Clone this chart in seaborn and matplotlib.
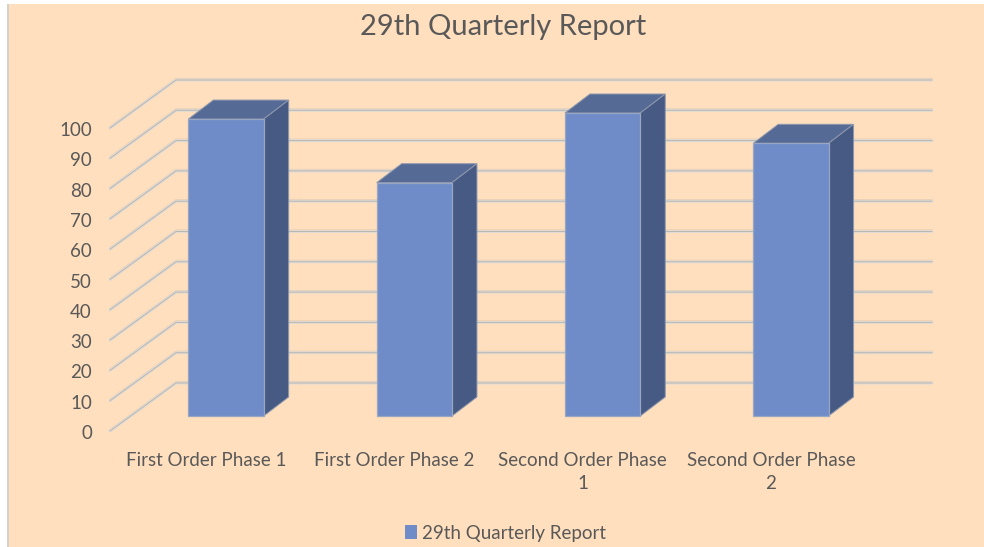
import matplotlib
matplotlib.use("Agg")
import matplotlib.pyplot as plt
import seaborn as sns
import pandas as pd
from matplotlib.patches import Polygon, Patch, Rectangle
from matplotlib.transforms import ScaledTranslation

title = "29th Quarterly Report"
categories = ["First Order Phase 1", "First Order Phase 2", "Second Order Phase\n1", "Second Order Phase\n2"]
values = [98, 77, 100, 90]
y_ticks = [0, 10, 20, 30, 40, 50, 60, 70, 80, 90, 100]

BG = "#FFDFBD"
FRONT = "#6F8BC8"
TOP = "#566A96"
SIDE = "#475A83"
TEXT = "#595959"

W, H = 984, 547
L, R, T, B = 110, 932, 79, 431
PX_Y = 3.03
PX_X = 188.3
BAR_FRAC = 0.40
FLOOR_PX = (66, 48)
BASE_PX = 15
DEPTH_PX = (25, 19)

sns.set_theme(style="white")
plt.rcParams["font.family"] = ["Lato", "DejaVu Sans"]

fig = plt.figure(figsize=(W / 100, H / 100), dpi=100, facecolor="white")
fig.add_artist(Rectangle((7 / W, 0), 2 / W, 1 - 4 / H, transform=fig.transFigure,
                         facecolor="#D4D0CA", edgecolor="none", zorder=-2))
fig.add_artist(Rectangle((9 / W, 0), 1 - 9 / W, 1 - 4 / H, transform=fig.transFigure,
                         facecolor=BG, edgecolor="none", zorder=-1))

ax = fig.add_axes([L / W, 1 - B / H, (R - L) / W, (B - T) / H])
ax.set_facecolor("none")

df = pd.DataFrame({"category": categories, "value": values})
sns.barplot(data=df, x="category", y="value", color=FRONT, saturation=1, width=BAR_FRAC,
            bottom=BASE_PX / PX_Y, ax=ax, zorder=5, edgecolor="#98A6C2", linewidth=0.9)

ax.set_xlim((L - 226) / PX_X, (R - 226) / PX_X)
ax.set_ylim(0, (B - T) / PX_Y)

dfx, dfy = FLOOR_PX[0] / PX_X, FLOOR_PX[1] / PX_Y
xl = ax.get_xlim()[0]
xr = ax.get_xlim()[1]
for v in y_ticks:
    xs, ys = [xl, xl + dfx, xr], [v, v + dfy, v + dfy]
    ax.plot(xs, [y + 1.2 / PX_Y for y in ys], color="#EBCBAA", lw=1.2, zorder=1, clip_on=False)
    ax.plot(xs, ys, color="#E0DCD5", lw=2.2, zorder=2, clip_on=False, solid_capstyle="round")
    ax.plot(xs, ys, color="#BAB6AF", lw=0.7, zorder=3, clip_on=False, solid_capstyle="round")

ddx, ddy = DEPTH_PX[0] / PX_X, DEPTH_PX[1] / PX_Y
for bar in list(ax.patches):
    x0, w = bar.get_x(), bar.get_width()
    y0, h = bar.get_y(), bar.get_height()
    x1, y1 = x0 + w, y0 + h
    ax.add_patch(Polygon([(x0, y1), (x1, y1), (x1 + ddx, y1 + ddy), (x0 + ddx, y1 + ddy)],
                         facecolor=TOP, edgecolor="#8E98AE", lw=0.7, zorder=4))
    ax.add_patch(Polygon([(x1, y0), (x1, y1), (x1 + ddx, y1 + ddy), (x1 + ddx, y0 + ddy)],
                         facecolor=SIDE, edgecolor="#8E98AE", lw=0.7, zorder=4))

sns.despine(ax=ax, left=True, bottom=True, right=True, top=True)
ax.set_xlabel("")
ax.set_ylabel("")
ax.set_yticks(y_ticks)
ax.set_xticks(range(len(categories)))
ax.set_xticklabels(categories, linespacing=1.45)
ax.tick_params(axis="y", length=0, pad=13, labelsize=13.5, labelcolor=TEXT)
ax.tick_params(axis="x", length=0, pad=15, labelsize=13.5, labelcolor=TEXT)

x_shift = ScaledTranslation(-20 / 100, 0, fig.dpi_scale_trans)
for label in ax.get_xticklabels():
    label.set_transform(label.get_transform() + x_shift)
y_shift = ScaledTranslation(0, -1 / 100, fig.dpi_scale_trans)
for label in ax.get_yticklabels():
    label.set_transform(label.get_transform() + y_shift)

fig.text(503 / W, 1 - 27 / H, title, ha="center", va="center", fontsize=21, color=TEXT)
fig.legend(handles=[Patch(facecolor=FRONT, edgecolor="none", label=title)],
           loc="center", bbox_to_anchor=(505.5 / W, 1 - 533 / H), frameon=False,
           fontsize=13.5, labelcolor=TEXT, handlelength=0.62, handleheight=0.8, handletextpad=0.3)

fig.savefig("out.png", dpi=100, facecolor="white")
